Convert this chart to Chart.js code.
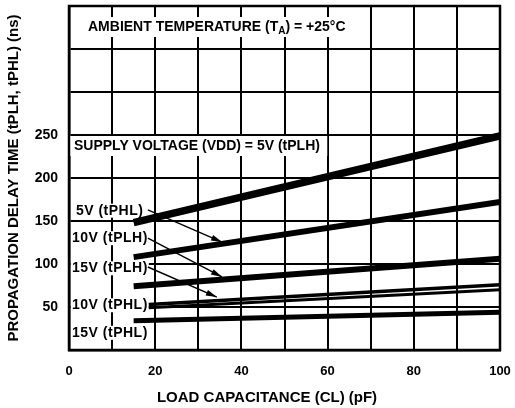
<!DOCTYPE html>
<html>
<head>
<meta charset="utf-8">
<script src="https://cdn.jsdelivr.net/npm/chart.js@4.4.0/dist/chart.umd.min.js"></script>
<style>
  html, body { margin: 0; padding: 0; background: #fff; }
  #wrap { width: 515px; height: 408px; }
</style>
</head>
<body>
<div id="wrap"><canvas id="delayChart"></canvas></div>
<script>
// curves: two end points each, CL in pF, delay in ns
const curveNames = ['5V (tPLH)', '5V (tPHL)', '10V (tPLH)', '15V (tPLH)', '10V (tPHL)', '15V (tPHL)'];
const startCL = [15, 15, 15, 18.5, 18.5, 15];
const endCL = [100, 100, 100, 100, 100, 100];
const startDelay = [148, 108, 74, 53, 49, 34];
const endDelay = [249, 172, 106, 76, 70, 44];

// axis labels that are actually printed
const xTickLabels = [0, 20, 40, 60, 80, 100];
const yTickLabels = [50, 100, 150, 200, 250];

// left-hand curve labels (anchor in pF / ns) and arrows pointing at the curves
const sideLabels = ['5V (tPHL)', '10V (tPLH)', '15V (tPLH)', '10V (tPHL)', '15V (tPHL)'];
const sideLabelAt = [[1.6, 162], [0.7, 130], [0.7, 95], [0.7, 52], [0.7, 20]];
const arrowFrom = [[18.3, 163], [18.3, 130], [18.3, 96.5]];
const arrowTo = [[35.5, 125.5], [35.5, 85], [34.3, 61.5]];

const lineWidths = [7.5, 6, 6, 3.5, 3, 5];
const FONT = "'Liberation Sans', Arial, sans-serif";

const datasets = curveNames.map((name, i) => ({
  label: name,
  data: [{ x: startCL[i], y: startDelay[i] }, { x: endCL[i], y: endDelay[i] }],
  borderColor: '#000',
  borderWidth: lineWidths[i],
  borderCapStyle: 'butt',
  pointRadius: 0,
  fill: false,
  tension: 0
}));

// white boxes, notes and arrows drawn on top of the grid
const notesPlugin = {
  id: 'notes',
  beforeDatasetsDraw(chart) {
    const { ctx, scales: { x, y }, chartArea: a } = chart;
    const y250 = y.getPixelForValue(250);
    ctx.save();
    ctx.fillStyle = '#fff';
    // ambient temperature note
    ctx.fillRect(85, 17, 266, 20);
    // supply voltage box
    ctx.fillRect(a.left + 1, y250 + 1, 258, 20);
    ctx.strokeStyle = '#000';
    ctx.lineWidth = 1.5;
    ctx.beginPath();
    ctx.moveTo(328, y250 - 5);
    ctx.lineTo(328, y250 + 21);
    ctx.stroke();

    ctx.textBaseline = 'middle';
    ctx.font = 'bold 14px ' + FONT;
    ctx.letterSpacing = '0.5px';
    sideLabels.forEach((txt, i) => {
      const px = x.getPixelForValue(sideLabelAt[i][0]);
      const py = y.getPixelForValue(sideLabelAt[i][1]);
      const w = ctx.measureText(txt).width;
      ctx.fillStyle = '#fff';
      ctx.fillRect(px - 1, py - 7, w + 2, 14);
      ctx.fillStyle = '#000';
      ctx.fillText(txt, px, py);
    });
    ctx.letterSpacing = '0px';

    ctx.fillStyle = '#000';
    ctx.font = 'bold 14px ' + FONT;
    ctx.fillText('SUPPLY VOLTAGE (VDD) = 5V (tPLH)', 74, y250 + 11);

    let tx = 88;
    const ty = 27;
    ctx.fillText('AMBIENT TEMPERATURE (T', tx, ty);
    tx += ctx.measureText('AMBIENT TEMPERATURE (T').width;
    ctx.font = 'bold 10px ' + FONT;
    ctx.fillText('A', tx, ty + 4);
    tx += ctx.measureText('A').width;
    ctx.font = 'bold 14px ' + FONT;
    ctx.fillText(') = +25\u00B0C', tx, ty);

    // arrows
    ctx.lineWidth = 1.4;
    arrowFrom.forEach((f, i) => {
      const x0 = x.getPixelForValue(f[0]), y0 = y.getPixelForValue(f[1]);
      const x1 = x.getPixelForValue(arrowTo[i][0]), y1 = y.getPixelForValue(arrowTo[i][1]);
      const ang = Math.atan2(y1 - y0, x1 - x0);
      ctx.beginPath();
      ctx.moveTo(x0, y0);
      ctx.lineTo(x1, y1);
      ctx.stroke();
      ctx.beginPath();
      ctx.moveTo(x1, y1);
      ctx.lineTo(x1 - 11 * Math.cos(ang) + 3 * Math.sin(ang), y1 - 11 * Math.sin(ang) - 3 * Math.cos(ang));
      ctx.lineTo(x1 - 11 * Math.cos(ang) - 3 * Math.sin(ang), y1 - 11 * Math.sin(ang) + 3 * Math.cos(ang));
      ctx.closePath();
      ctx.fill();
    });
    ctx.restore();
  },
  afterDraw(chart) {
    const { ctx, chartArea: a } = chart;
    ctx.save();
    ctx.strokeStyle = '#000';
    ctx.lineWidth = 2.5;
    ctx.strokeRect(a.left, a.top, a.right - a.left, a.bottom - a.top);
    ctx.fillStyle = '#000';
    ctx.font = 'bold 15px ' + FONT;
    ctx.textAlign = 'center';
    ctx.textBaseline = 'middle';
    ctx.fillText('LOAD CAPACITANCE (CL) (pF)', 267, 398);
    ctx.restore();
  }
};

new Chart(document.getElementById('delayChart'), {
  type: 'line',
  data: { datasets: datasets },
  options: {
    responsive: true,
    maintainAspectRatio: false,
    animation: false,
    layout: { padding: { top: 6, right: 15, bottom: 0, left: 0 } },
    plugins: { legend: { display: false }, tooltip: { enabled: false } },
    scales: {
      x: {
        type: 'linear',
        min: 0,
        max: 100,
        afterFit: s => { s.height = 58; s.paddingLeft = 0; s.paddingRight = 0; },
        grid: { color: '#000', lineWidth: 2, drawTicks: false },
        border: { color: '#000', width: 2.5 },
        ticks: {
          stepSize: 10,
          autoSkip: false,
          maxRotation: 0,
          padding: 14,
          color: '#000',
          font: { family: FONT, size: 13, weight: 'bold' },
          callback: v => (xTickLabels.includes(v) ? String(v) : '')
        }
      },
      y: {
        min: 0,
        max: 400,
        afterFit: s => { s.width = 69; s.paddingTop = 0; s.paddingBottom = 0; },
        grid: { color: '#000', lineWidth: 2, drawTicks: false },
        border: { color: '#000', width: 2.5 },
        ticks: {
          stepSize: 50,
          autoSkip: false,
          padding: 11,
          color: '#000',
          font: { family: FONT, size: 14, weight: 'bold' },
          callback: v => (yTickLabels.includes(v) ? String(v) : '')
        },
        title: {
          display: true,
          text: 'PROPAGATION DELAY TIME (tPLH, tPHL) (ns)',
          color: '#000',
          font: { family: FONT, size: 15, weight: 'bold' },
          padding: { top: 5, bottom: 0 }
        }
      }
    }
  },
  plugins: [notesPlugin]
});
</script>
</body>
</html>
